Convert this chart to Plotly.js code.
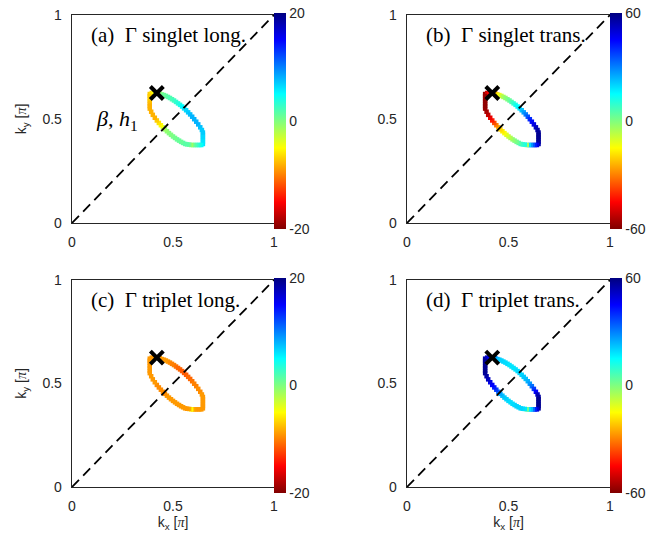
<!DOCTYPE html>
<html>
<head>
<meta charset="utf-8">
<script src="https://cdn.plot.ly/plotly-3.0.1.min.js"></script>
<style>html,body{margin:0;padding:0;background:#fff;}#chart{width:663px;height:533px;}</style>
</head>
<body>
<div id="chart"></div>
<script>
// Contour points (k_x, k_y in units of pi), traversed clockwise from the top-left corner
const contourKx = [
  0.385,0.395,0.405,0.415,0.425,0.435,0.445,
  0.455,0.465,0.475,0.485,0.495,0.505,0.515,0.525,0.535,0.545,0.555,0.565,0.575,0.585,0.595,0.605,0.615,0.625,0.635,0.643,
  0.648,0.648,0.648,0.648,0.648,0.648,
  0.640,0.630,0.620,0.610,0.600,0.590,0.580,0.570,
  0.560,0.550,0.540,0.530,0.520,0.510,0.500,0.490,0.480,0.470,0.460,0.450,0.440,0.430,0.420,0.410,0.400,0.392,
  0.385,0.385,0.385,0.385,0.385,0.385
];
const contourKy = [
  0.620,0.625,0.625,0.625,0.625,0.622,0.618,
  0.615,0.611,0.606,0.601,0.595,0.589,0.582,0.575,0.568,0.560,0.551,0.542,0.532,0.522,0.511,0.499,0.487,0.474,0.460,0.447,
  0.435,0.424,0.413,0.402,0.391,0.380,
  0.375,0.375,0.375,0.375,0.375,0.375,0.377,0.378,
  0.380,0.385,0.390,0.396,0.402,0.409,0.416,0.424,0.432,0.441,0.450,0.460,0.470,0.481,0.493,0.506,0.520,0.535,
  0.550,0.562,0.574,0.586,0.598,0.610
];
// Gamma values along the contour for each panel
const singletLong = [
  -7,-6,-5,-3,-2,-1,0,
  1,1,1.5,2,2,2.5,3,3.5,4,5,6,6.5,7,7.5,8,8,8,8,7.5,7,
  7,7,6.5,6.5,6,6,
  5,4,3,2,1,-1,1,1.5,
  1.5,1.5,1,1,1,0.5,0.5,0,0,-0.5,-1,-3,-5,-6,-7,-8,-8,-8,
  -8,-8,-8,-7.5,-7,-7
];
const singletTrans = [
  -57,-50,-45,-40,-35,-28,-20,
  -14,-9,-5,-2,0,3,6,9,12,15,18,22,26,30,35,40,44,48,52,55,
  57,58,58,58,57,55,
  48,42,35,28,20,-4,12,10,
  8,5,2,0,-2,-5,-8,-11,-14,-17,-20,-24,-30,-36,-42,-47,-52,-55,
  -57,-58,-58,-58,-58,-57
];
const tripletLong = [
  -9,-9,-9,-9,-9,-9,-9,
  -9,-9,-9,-9.5,-10,-10,-10.5,-11,-11,-11.5,-11.5,-11.5,-11,-11,-10.5,-10,-10,-9.5,-9.5,-9,
  -9,-9,-9,-9,-9,-9,
  -9,-9,-9,-9,-8.5,-5,-8.5,-9,
  -9,-9,-9,-9,-9,-9,-9,-9,-9,-9,-9.5,-9.5,-9.5,-9.5,-9.5,-9,-9,-9,
  -9,-9,-9,-9,-9,-9
];
const tripletTrans = [
  55,52,48,45,40,30,25,
  22,20,20,19,19,18,18,18,18,19,20,20,21,22,24,27,32,38,45,52,
  56,58,58,58,58,57,
  50,42,32,22,18,2,18,19,
  20,20,20,20,19,19,19,20,21,22,25,32,38,42,45,48,52,55,
  57,58,58,58,58,57
];
const crossKx = [0.42];
const crossKy = [0.625];
const diagKx = [0, 1];
const diagKy = [0, 1];
const axisTicks = [0, 0.5, 1];
const axisTickText = ['0', '0.5', '1'];
const rangeLong = [-20, 20];
const rangeTrans = [-60, 60];
const cbTicksLong = [-20, 0, 20];
const cbTicksTrans = [-60, 0, 60];
const panelLabels = ['(a)\u00A0\u00A0\u0393 singlet long.', '(b)\u00A0\u00A0\u0393 singlet trans.',
                     '(c)\u00A0\u00A0\u0393 triplet long.', '(d)\u00A0\u00A0\u0393 triplet trans.'];

const W = 663, H = 533;
const jetR = [[0,'rgb(128,0,0)'],[0.125,'rgb(255,0,0)'],[0.375,'rgb(255,255,0)'],
              [0.625,'rgb(0,255,255)'],[0.875,'rgb(0,0,255)'],[1,'rgb(0,0,128)']];
const sans = '"Liberation Sans", Arial, sans-serif';
const serif = '"Liberation Serif", "Times New Roman", serif';
const grey = '#262626';

const panels = [
  {vals: singletLong, rng: rangeLong, cbt: cbTicksLong, xa: 'x',  ya: 'y',  px: [72,274], py: [15,223]},
  {vals: singletTrans, rng: rangeTrans, cbt: cbTicksTrans, xa: 'x2', ya: 'y2', px: [407,610], py: [15,223]},
  {vals: tripletLong, rng: rangeLong, cbt: cbTicksLong, xa: 'x3', ya: 'y3', px: [72,274], py: [280,487]},
  {vals: tripletTrans, rng: rangeTrans, cbt: cbTicksTrans, xa: 'x4', ya: 'y4', px: [407,610], py: [280,487]}
];

const traces = [];
const layout = {
  width: W, height: H, margin: {l:0, r:0, t:0, b:0},
  paper_bgcolor: '#fff', plot_bgcolor: '#fff', showlegend: false,
  annotations: []
};

panels.forEach((p, i) => {
  const n = i === 0 ? '' : String(i + 1);
  const cbCenter = (p.py[0] + p.py[1]) / 2 + 2;
  traces.push({
    type: 'scatter', mode: 'markers', x: contourKx, y: contourKy, xaxis: p.xa, yaxis: p.ya,
    hoverinfo: 'skip',
    marker: {
      symbol: 'square', size: 4.5, color: p.vals, cmin: p.rng[0], cmax: p.rng[1],
      colorscale: jetR, showscale: true, line: {width: 0},
      colorbar: {
        x: p.px[1] / W, xanchor: 'left', y: 1 - cbCenter / H, yanchor: 'middle',
        thickness: 12, thicknessmode: 'pixels', len: (p.py[1] - p.py[0]) + 8, lenmode: 'pixels',
        outlinewidth: 0, xpad: 0, ypad: 0, ticks: '', ticklabelpad: 3,
        tickvals: p.cbt, ticktext: p.cbt.map(String),
        tickfont: {family: sans, size: 14, color: grey}
      }
    }
  });
  traces.push({
    type: 'scatter', mode: 'lines', x: diagKx, y: diagKy, xaxis: p.xa, yaxis: p.ya, hoverinfo: 'skip',
    line: {color: 'black', width: 1.8, dash: '10px,6px'}
  });
  traces.push({
    type: 'scatter', mode: 'markers', x: crossKx, y: crossKy, xaxis: p.xa, yaxis: p.ya, hoverinfo: 'skip',
    marker: {symbol: 'x-thin', size: 13, color: 'black', line: {width: 4, color: 'black'}}
  });
  const common = {
    range: [0, 1], tickvals: axisTicks, ticktext: axisTickText, showgrid: false, zeroline: false,
    showline: true, mirror: true, linecolor: grey, linewidth: 1.3,
    ticks: 'outside', ticklen: 6, tickcolor: 'rgba(0,0,0,0)',
    tickfont: {family: sans, size: 14, color: grey}, fixedrange: true
  };
  const xa = Object.assign({}, common, {domain: [p.px[0] / W, p.px[1] / W], anchor: 'y' + n});
  const ya = Object.assign({}, common, {domain: [1 - p.py[1] / H, 1 - p.py[0] / H], anchor: 'x' + n});
  if (i >= 2) {
    xa.title = {text: 'k<sub>x</sub> [<span style="font-family:Liberation Serif;font-style:italic">\u03C0</span>]',
                font: {family: sans, size: 14, color: grey}, standoff: 2};
  }
  if (i % 2 === 0) {
    ya.title = {text: 'k<sub>y</sub> [<span style="font-family:Liberation Serif;font-style:italic">\u03C0</span>]',
                font: {family: sans, size: 14, color: grey}, standoff: 12};
  }
  layout['xaxis' + n] = xa;
  layout['yaxis' + n] = ya;
  layout.annotations.push({
    text: panelLabels[i], xref: 'paper', yref: 'paper',
    x: (p.px[0] + 17) / W, y: 1 - (p.py[0] + 20) / H, xanchor: 'left', yanchor: 'middle',
    showarrow: false, font: {family: serif, size: 21, color: 'black'}
  });
});

layout.annotations.push({
  text: '<i>\u03B2</i>, <i>h</i><sub>1</sub>', xref: 'paper', yref: 'paper',
  x: 94 / W, y: 1 - 120 / H, xanchor: 'left', yanchor: 'middle', showarrow: false,
  font: {family: serif, size: 22, color: 'black'}
});

Plotly.newPlot('chart', traces, layout, {staticPlot: true});
</script>
</body>
</html>
